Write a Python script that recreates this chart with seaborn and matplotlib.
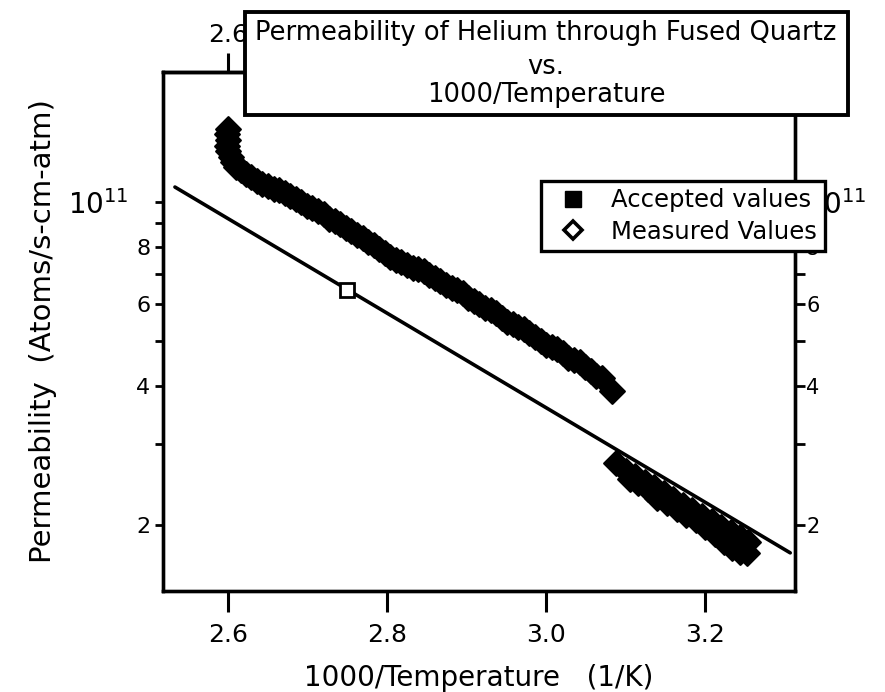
import matplotlib
matplotlib.use("Agg")
import matplotlib.pyplot as plt
import seaborn as sns
import pandas as pd
from matplotlib.lines import Line2D
from matplotlib.patches import Rectangle
from matplotlib.ticker import FixedLocator, FixedFormatter, NullFormatter

# measured values, upper run (1000/T, permeability in 1e10 atoms/s-cm-atm)
upper_x = [2.600, 2.599, 2.600, 2.598, 2.600, 2.603, 2.606, 2.610, 2.616, 2.622,
           2.629, 2.636, 2.643, 2.650, 2.657, 2.664, 2.671, 2.678, 2.685, 2.692,
           2.699, 2.706, 2.713, 2.720, 2.727, 2.734, 2.741, 2.748, 2.755, 2.762,
           2.769, 2.776, 2.783, 2.790, 2.797, 2.804, 2.811, 2.818, 2.825, 2.832,
           2.839, 2.846, 2.853, 2.860, 2.867, 2.874, 2.881, 2.888, 2.895, 2.902,
           2.909, 2.916, 2.923, 2.930, 2.937, 2.944, 2.951, 2.958, 2.965, 2.972,
           2.979, 2.986, 2.993, 3.000, 3.007, 3.014, 3.021, 3.028, 3.035, 3.042,
           3.049, 3.056, 3.063, 3.070, 3.083]
upper_y = [14.4, 14.0, 13.6, 13.2, 12.9, 12.5, 12.2, 11.9, 11.7, 11.5,
           11.3, 11.1, 10.95, 10.8, 10.65, 10.6, 10.45, 10.3, 10.15, 10.0,
           9.8, 9.7, 9.55, 9.4, 9.2, 9.1, 8.95, 8.8, 8.65, 8.5,
           8.35, 8.2, 8.05, 7.9, 7.75, 7.6, 7.5, 7.4, 7.3, 7.2,
           7.15, 7.1, 6.95, 6.85, 6.75, 6.6, 6.5, 6.45, 6.35, 6.2,
           6.1, 6.0, 5.9, 5.85, 5.75, 5.6, 5.5, 5.45, 5.35, 5.3,
           5.2, 5.1, 5.0, 4.9, 4.85, 4.8, 4.7, 4.6, 4.55, 4.5,
           4.4, 4.3, 4.2, 4.15, 3.9]

# measured values, lower run (upper edge of the cluster, then lower edge)
lower_x = [3.088, 3.100, 3.112, 3.124, 3.136, 3.148, 3.160, 3.172, 3.184, 3.196,
           3.208, 3.220, 3.232, 3.244, 3.254,
           3.105, 3.115, 3.128, 3.140, 3.152, 3.164, 3.176, 3.188, 3.200, 3.212,
           3.224, 3.234, 3.244, 3.252]
lower_y = [2.72, 2.62, 2.55, 2.48, 2.41, 2.34, 2.28, 2.21, 2.15, 2.09,
           2.04, 1.98, 1.93, 1.88, 1.84,
           2.52, 2.47, 2.39, 2.29, 2.23, 2.16, 2.10, 2.05, 1.98, 1.91,
           1.84, 1.78, 1.75, 1.74]

# accepted values line and marked point
acc_line_x = [2.533, 3.307]
acc_line_y = [10.77, 1.74]
acc_point_x = [2.75]
acc_point_y = [6.45]

y_major = [2, 4, 6, 8, 10]
y_major_labels = ["2", "4", "6", "8", "$10^{11}$"]
y_minor = [3, 5, 7, 9]
x_ticks = [2.6, 2.8, 3.0, 3.2]
x_labels = ["2.6", "2.8", "3.0", "3.2"]
top_labels = ["2.6", "", "", ""]

sns.set_style("ticks")
plt.rcParams["font.family"] = ["DejaVu Sans"]
plt.rcParams["mathtext.default"] = "regular"
for key in ["text.color", "axes.labelcolor", "xtick.color", "ytick.color", "axes.edgecolor"]:
    plt.rcParams[key] = "black"

meas = pd.DataFrame({"inv_T": upper_x + lower_x,
                     "perm": [v * 1e10 for v in upper_y + lower_y]})
acc = pd.DataFrame({"inv_T": acc_line_x, "perm": [v * 1e10 for v in acc_line_y]})

fig = plt.figure(figsize=(8.85, 6.92), dpi=100)
ax = fig.add_axes([0.1842, 0.1460, 0.7141, 0.7500])
ax.set_yscale("log")

sns.lineplot(data=acc, x="inv_T", y="perm", color="black", lw=2.6, ax=ax, zorder=4)
ax.plot(acc_point_x, [v * 1e10 for v in acc_point_y], marker="s", ms=10,
        mfc="white", mec="black", mew=2, ls="none", zorder=5)
sns.scatterplot(data=meas, x="inv_T", y="perm", marker="D", s=160,
                color="black", edgecolor="black", linewidth=1.5,
                ax=ax, legend=False, zorder=3)

ax.set_xlim(2.518, 3.313)
ax.set_ylim(1.439e10, 1.911e11)

yticks = [v * 1e10 for v in y_major]
yminor = [v * 1e10 for v in y_minor]
ax.yaxis.set_major_locator(FixedLocator(yticks))
ax.yaxis.set_major_formatter(FixedFormatter(y_major_labels))
ax.yaxis.set_minor_locator(FixedLocator(yminor))
ax.yaxis.set_minor_formatter(NullFormatter())

ax.set_xticks(x_ticks)
ax.set_xticklabels(x_labels)
ax.tick_params(axis="x", which="both", direction="out", length=15, width=2.2,
               labelsize=18, pad=8)
ax.tick_params(axis="y", which="major", direction="out", length=6, width=2,
               labelsize=16, pad=3)
ax.tick_params(axis="y", which="minor", direction="out", length=6, width=2)
big_tick = ax.yaxis.get_major_ticks()[-1]
big_tick.tick1line.set_markersize(13)
big_tick.set_pad(19)
ax.get_yticklabels()[-1].set_fontsize(20)

for sp in ax.spines.values():
    sp.set_linewidth(2.4)

top = ax.secondary_xaxis("top")
top.set_xticks(x_ticks)
top.set_xticklabels(top_labels)
top.tick_params(direction="out", length=14, width=2.2, labelsize=18, pad=4)
top.spines["top"].set_linewidth(2.4)

ax2 = ax.twinx()
ax2.set_yscale("log")
ax2.set_ylim(ax.get_ylim())
ax2.yaxis.set_major_locator(FixedLocator(yticks))
ax2.yaxis.set_major_formatter(FixedFormatter(y_major_labels))
ax2.yaxis.set_minor_locator(FixedLocator(yminor))
ax2.yaxis.set_minor_formatter(NullFormatter())
ax2.tick_params(axis="y", which="both", direction="out", length=7, width=2,
                labelsize=15, pad=1)
ax2.get_yticklabels()[-1].set_fontsize(20)
for sp in ax2.spines.values():
    sp.set_linewidth(2.4)

ax.set_xlabel("1000/Temperature   (1/K)", fontsize=20, labelpad=12)
ax.set_ylabel("Permeability  (Atoms/s-cm-atm)", fontsize=21, labelpad=8)

# title box
fig.patches.append(Rectangle((0.2768, 0.8338), 0.6814, 0.1488,
                             transform=fig.transFigure, facecolor="white",
                             edgecolor="black", linewidth=2.8, zorder=4))
title_lines = ["Permeability of Helium through Fused Quartz", "vs.", "1000/Temperature"]
for line, yy in zip(title_lines, [0.952, 0.903, 0.862]):
    fig.text(0.617, yy, line, ha="center", va="center", fontsize=18.5, zorder=6)

handles = [Line2D([], [], marker="s", ls="none", ms=12, mfc="black", mec="black"),
           Line2D([], [], marker="D", ls="none", ms=9, mfc="white", mec="black", mew=2.6)]
leg = fig.legend(handles, ["Accepted values", "Measured Values"], loc="upper left",
                 bbox_to_anchor=(541 / 885, 1 - 181 / 692), frameon=True,
                 fancybox=False, framealpha=1, edgecolor="black", fontsize=17.5,
                 handlelength=2.0, handletextpad=0.6, labelspacing=0.3,
                 borderpad=0.3, borderaxespad=0)
leg.get_frame().set_linewidth(2.4)
leg.set_zorder(7)

fig.savefig("out.png", dpi=100)
